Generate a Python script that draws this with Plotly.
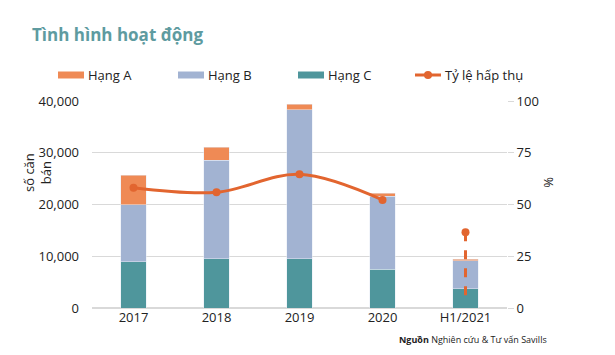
import plotly.graph_objects as go

categories = ["2017", "2018", "2019", "2020", "H1/2021"]
hang_a = [5700, 2500, 1100, 600, 300]
hang_b = [11100, 19100, 28800, 14100, 5400]
hang_c = [8900, 9500, 9500, 7500, 3700]
ty_le = [58.1, 55.9, 64.6, 52.2, None]
ty_le_h1 = [36.6, 3.9]
h1_cat = ["H1/2021", "H1/2021"]

c_a = "#EF8A55"
c_b = "#A2B3D2"
c_c = "#4F969C"
c_line = "#E2652F"
font_fam = "Open Sans, Noto Sans, sans-serif"

# page shows the figure offset by 8px (body margin)
OFF = 8
W, H = 615 - OFF, 355 - OFF
L, T = 92 - OFF, 101 - OFF
R = W - (507 - OFF)
B = H - (308 - OFF)
pw = W - L - R
ph = H - T - B


def px(x):
    return (x - OFF - L) / pw


def py(y):
    return (H - B - (y - OFF)) / ph


fig = go.Figure()
fig.add_trace(go.Bar(x=categories, y=hang_c, name="Hạng C", marker_color=c_c, width=0.31))
fig.add_trace(go.Bar(x=categories, y=hang_b, name="Hạng B", marker_color=c_b, width=0.31))
fig.add_trace(go.Bar(x=categories, y=hang_a, name="Hạng A", marker_color=c_a, width=0.31))
fig.add_trace(go.Scatter(x=categories, y=ty_le, name="Tỷ lệ hấp thụ", yaxis="y2",
                         mode="lines+markers", line=dict(color=c_line, width=3, shape="spline"),
                         marker=dict(size=8, color=c_line)))
fig.add_trace(go.Scatter(x=h1_cat[:1], y=ty_le_h1[:1], yaxis="y2", mode="markers",
                         marker=dict(size=8, color=c_line)))
fig.add_trace(go.Scatter(x=h1_cat, y=ty_le_h1, yaxis="y2", mode="lines",
                         line=dict(color=c_line, width=3, dash="dash")))

fig.update_layout(
    width=W, height=H,
    margin=dict(l=L, r=R, t=T, b=B),
    plot_bgcolor="white", paper_bgcolor="white",
    barmode="stack",
    font=dict(family=font_fam, size=13, color="#222222"),
    xaxis=dict(showgrid=False, showline=False, ticks="", tickfont=dict(size=13, color="#222")),
    yaxis=dict(range=[0, 40000], dtick=10000, tickformat=",", gridcolor="#d9d9d9", gridwidth=1,
               zeroline=True, zerolinecolor="#d9d9d9", ticks="", ticklabelstandoff=12,
               tickfont=dict(size=13, color="#222")),
    yaxis2=dict(range=[0, 100], dtick=25, overlaying="y", side="right", showgrid=False,
                zeroline=False, ticks="outside", ticklen=6, tickcolor="#d9d9d9",
                tickfont=dict(size=13, color="#222")),
    showlegend=False,
)

fig.add_annotation(text="<b>Tình hình hoạt động</b>", xref="paper", yref="paper",
                   x=px(30), y=py(35), xanchor="left", yanchor="middle", showarrow=False,
                   font=dict(size=17, color="#5E9BA0"))
fig.add_annotation(text="số căn<br>bán", xref="paper", yref="paper", x=px(37), y=py(172),
                   xanchor="center", yanchor="middle",
                   textangle=-90, showarrow=False, font=dict(size=13, color="#222"))
fig.add_annotation(text="%", xref="paper", yref="paper", x=px(549), y=py(182),
                   xanchor="center", yanchor="middle",
                   textangle=90, showarrow=False, font=dict(size=13, color="#222"))
fig.add_annotation(text="<b>Nguồn</b> Nghiên cứu & Tư vấn Savills", xref="paper", yref="paper",
                   x=px(397), y=py(339), xanchor="left", yanchor="middle", showarrow=False,
                   font=dict(size=9, color="#222"))

# legend drawn as shapes + text
legend_y = 75
legend_items = [("Hạng A", c_a), ("Hạng B", c_b), ("Hạng C", c_c)]
leg_x = [58, 178, 298]
for (label, col), lx in zip(legend_items, leg_x):
    fig.add_shape(type="rect", xref="paper", yref="paper",
                  x0=px(lx), x1=px(lx + 26),
                  y0=py(legend_y + 3.5), y1=py(legend_y - 3.5),
                  fillcolor=col, line=dict(width=0))
    fig.add_annotation(text=label, xref="paper", yref="paper", x=px(lx + 28),
                       y=py(legend_y), xanchor="left", yanchor="middle",
                       showarrow=False, font=dict(size=13, color="#222"))
lx = 415
fig.add_shape(type="line", xref="paper", yref="paper",
              x0=px(lx), x1=px(lx + 26), y0=py(legend_y), y1=py(legend_y),
              line=dict(color=c_line, width=3))
fig.add_shape(type="circle", xref="paper", yref="paper",
              x0=px(lx + 9), x1=px(lx + 17), y0=py(legend_y + 4), y1=py(legend_y - 4),
              fillcolor=c_line, line=dict(width=0))
fig.add_annotation(text="Tỷ lệ hấp thụ", xref="paper", yref="paper", x=px(lx + 28),
                   y=py(legend_y), xanchor="left", yanchor="middle",
                   showarrow=False, font=dict(size=13, color="#222"))

fig.write_html("out.html")
